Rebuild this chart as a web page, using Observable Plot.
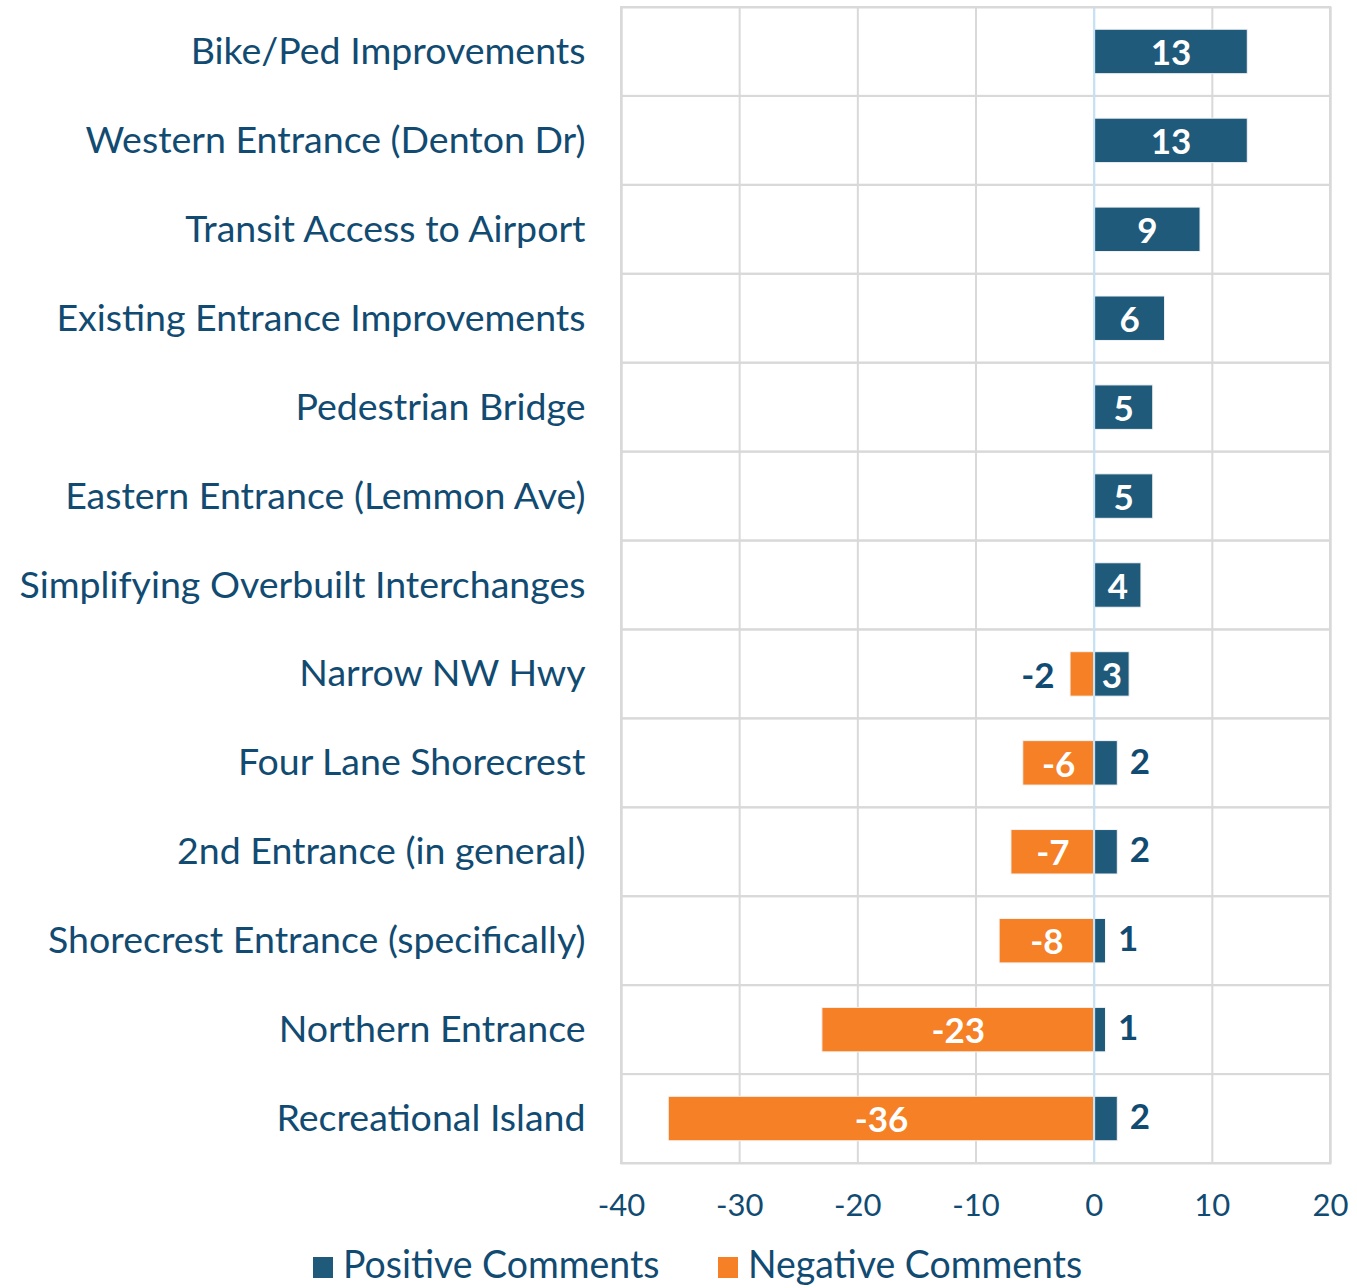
<!DOCTYPE html>
<html>
<head>
<meta charset="utf-8">
<script src="https://cdn.jsdelivr.net/npm/d3@7"></script>
<script src="https://cdn.jsdelivr.net/npm/@observablehq/plot@0.6"></script>
<style>
  html, body { margin: 0; padding: 0; background: #fff; }
  #wrap { position: relative; width: 1357px; height: 1288px; overflow: hidden; font-family: Lato, "Open Sans", sans-serif; }
  #legend { position: absolute; left: 0; top: 1244px; width: 1357px; height: 38px; }
  .item { position: absolute; top: 0; display: flex; align-items: center; color: #114b72; font-size: 38px; line-height: 38px; height: 38px; white-space: nowrap; }
  .item span { display: inline-block; transform: scaleX(0.985); transform-origin: left center; }
  .sw { width: 20px; height: 21px; margin-right: 10px; margin-top: 8px; }
</style>
</head>
<body>
<div id="wrap"><div id="chart"></div><div id="legend"></div></div>
<script>
const categories = [
  "Bike/Ped Improvements",
  "Western Entrance (Denton Dr)",
  "Transit Access to Airport",
  "Existing Entrance Improvements",
  "Pedestrian Bridge",
  "Eastern Entrance (Lemmon Ave)",
  "Simplifying Overbuilt Interchanges",
  "Narrow NW Hwy",
  "Four Lane Shorecrest",
  "2nd Entrance (in general)",
  "Shorecrest Entrance (specifically)",
  "Northern Entrance",
  "Recreational Island"
];
const positive = [13, 13, 9, 6, 5, 5, 4, 3, 2, 2, 1, 1, 2];
const negative = [0, 0, 0, 0, 0, 0, 0, -2, -6, -7, -8, -23, -36];
const xTicks = [-40, -30, -20, -10, 0, 10, 20];
const seriesNames = ["Positive Comments", "Negative Comments"];
const seriesColors = ["#1f5a7b", "#f58026"];

const textColor = "#114b72";
const rows = [];
categories.forEach((c, i) => {
  rows.push({category: c, series: seriesNames[0], value: positive[i]});
  if (negative[i] !== 0) rows.push({category: c, series: seriesNames[1], value: negative[i]});
});
const inside = rows.filter(d => Math.abs(d.value) >= 3);
const outPos = rows.filter(d => Math.abs(d.value) < 3 && d.value > 0);
const outNeg = rows.filter(d => Math.abs(d.value) < 3 && d.value < 0);

const H = 1240, mt = 7, mb = H - 1163;
const band = (1163 - 7) / categories.length;
const inset = band / 4;

const chart = Plot.plot({
  width: 1357,
  height: H,
  marginLeft: 621,
  marginRight: 27,
  marginTop: mt,
  marginBottom: mb,
  style: {fontFamily: "Lato, 'Open Sans', sans-serif", background: "white", overflow: "visible"},
  x: {domain: [-40, 20]},
  y: {domain: categories, padding: 0, round: false},
  color: {domain: seriesNames, range: seriesColors},
  marks: [
    Plot.ruleX(xTicks, {stroke: "#d9d9d9", strokeWidth: 2}),
    Plot.barX(categories, {y: d => d, x1: -40, x2: 20, fill: "none", stroke: "#d9d9d9", strokeWidth: 2}),
    Plot.barX(rows, {y: "category", x1: 0, x2: "value", fill: "series", stroke: "#f4f4f4", strokeWidth: 1, insetTop: inset, insetBottom: inset}),
    Plot.ruleX([0], {stroke: "#c3e2f7", strokeWidth: 2}),
    Plot.frame({stroke: "#d9d9d9", strokeWidth: 2}),
    Plot.text(inside, {y: "category", x: d => d.value / 2, text: d => String(d.value), fill: "white", fontSize: 35, fontWeight: "bold", dy: 2}),
    Plot.text(outPos, {y: "category", x: "value", text: d => String(d.value), fill: textColor, fontSize: 35, fontWeight: "bold", textAnchor: "start", dx: 12, dy: -1}),
    Plot.text(outNeg, {y: "category", x: "value", text: d => String(d.value), fill: textColor, fontSize: 35, fontWeight: "bold", textAnchor: "end", dx: -16, dy: 2}),
    Plot.axisY({tickSize: 0, tickPadding: 36, fontSize: 37.5, fill: textColor, label: null}),
    Plot.axisX({ticks: xTicks, tickFormat: d => String(d), tickSize: 0, tickPadding: 30, fontSize: 31, fill: textColor, label: null})
  ]
});
document.getElementById("chart").appendChild(chart);

const legend = document.getElementById("legend");
const lefts = [313, 718];
seriesNames.forEach((s, i) => {
  const it = document.createElement("div");
  it.className = "item";
  it.style.left = lefts[i] + "px";
  const sw = document.createElement("div");
  sw.className = "sw";
  sw.style.background = seriesColors[i];
  const t = document.createElement("span");
  t.textContent = s;
  it.appendChild(sw);
  it.appendChild(t);
  legend.appendChild(it);
});
</script>
</body>
</html>
